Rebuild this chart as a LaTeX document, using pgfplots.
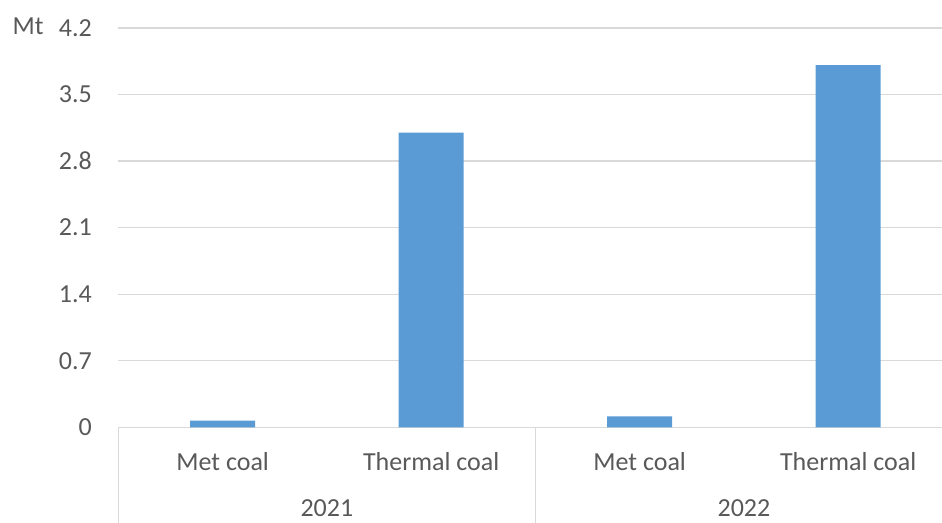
\documentclass[border=0pt]{standalone}
\usepackage{pgfplots}
\pgfplotsset{compat=1.18}
\usepackage{fontspec}
\setmainfont{Carlito}
\definecolor{barblue}{HTML}{5B9BD5}
\definecolor{gridgray}{HTML}{D9D9D9}
\definecolor{txtgray}{HTML}{595959}
\newcommand{\lbl}{\fontsize{26}{31}\selectfont}
\begin{document}
\begin{tikzpicture}[x=1pt,y=1pt]
\useasboundingbox (0,0) rectangle (942,-522);
\begin{axis}[
  at={(118.4pt,-427.3pt)}, anchor=south west,
  scale only axis, width=823.6pt, height=399.3pt,
  xmin=-0.5, xmax=3.45, ymin=0, ymax=4.2,
  axis line style={draw=none},
  ytick={0,0.7,1.4,2.1,2.8,3.5,4.2},
  yticklabels={0,0.7,1.4,2.1,2.8,3.5,4.2},
  xtick=\empty,
  major tick length=0pt,
  ymajorgrids, grid style={gridgray, line width=1.3pt},
  yticklabel style={anchor=east, inner sep=0pt, xshift=-26.4pt, font=\lbl, text=txtgray},
  /pgf/number format/assume math mode=true,
  clip=false,
  ybar, bar width=65pt,
]
\addplot[fill=barblue, draw=none] coordinates {(0,0.07) (1,3.10) (2,0.115) (3,3.81)};
\node[anchor=base, yshift=-42.7pt, font=\lbl, text=txtgray, inner sep=0pt] at (axis cs:0,0) {Met coal};
\node[anchor=base, yshift=-42.7pt, font=\lbl, text=txtgray, inner sep=0pt] at (axis cs:1,0) {Thermal coal};
\node[anchor=base, yshift=-42.7pt, font=\lbl, text=txtgray, inner sep=0pt] at (axis cs:2,0) {Met coal};
\node[anchor=base, yshift=-42.7pt, font=\lbl, text=txtgray, inner sep=0pt] at (axis cs:3,0) {Thermal coal};
\node[anchor=base, yshift=-89.5pt, font=\lbl, text=txtgray, inner sep=0pt] at (axis cs:0.5,0) {2021};
\node[anchor=base, yshift=-89.5pt, font=\lbl, text=txtgray, inner sep=0pt] at (axis cs:2.5,0) {2022};
\draw[gridgray, line width=1.5pt] (axis cs:-0.5,0) -- ++(0pt,-100pt);
\draw[gridgray, line width=1.5pt] (axis cs:1.5,0) -- ++(0pt,-100pt);
\end{axis}
\node[anchor=base west, font=\lbl, text=txtgray, inner sep=0pt] at (12.5,-34.5) {Mt};
\end{tikzpicture}
\end{document}
